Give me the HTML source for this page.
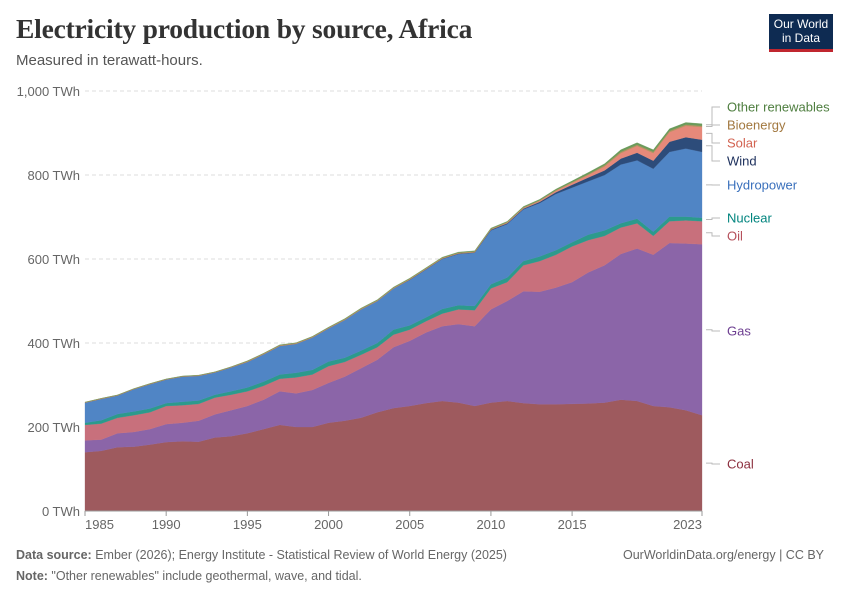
<!DOCTYPE html>
<html><head><meta charset="utf-8"><style>
body{margin:0;background:#fff;font-family:"Liberation Sans",sans-serif;}
#wrap{position:relative;width:850px;height:600px;overflow:hidden;}
h1{position:absolute;left:16px;top:13px;margin:0;font-family:"Liberation Serif",serif;font-size:27.5px;font-weight:bold;color:#333;letter-spacing:-0.2px}
.sub{position:absolute;left:16px;top:52px;font-size:15px;color:#555}
.logo{position:absolute;left:769px;top:14px;width:64px;height:38px;background:#0e2b52;color:#fff;font-size:12px;line-height:14px;text-align:center;padding-top:3px;box-sizing:border-box;border-bottom:3px solid #c0262f}
.foot{position:absolute;font-size:12.5px;color:#666}
</style></head><body><div id="wrap">
<h1>Electricity production by source, Africa</h1>
<div class="sub">Measured in terawatt-hours.</div>
<div class="logo">Our World<br>in Data</div>
<svg id="svg" width="850" height="600" style="position:absolute;left:0;top:0"></svg>
<div class="foot" style="left:16px;top:548px"><b>Data source:</b> Ember (2026); Energy Institute - Statistical Review of World Energy (2025)</div>
<div class="foot" style="left:623px;top:548px">OurWorldinData.org/energy | CC BY</div>
<div class="foot" style="left:16px;top:569px"><b>Note:</b> "Other renewables" include geothermal, wave, and tidal.</div>
</div>
<script>
const years=[];for(let y=1985;y<=2023;y++)years.push(y);
const coal=[140,143,152,153,158,164,166,165,175,178,185,195,205,200,200,210,215,222,235,245,250,257,262,258,250,258,262,257,254,254,255,256,258,265,262,250,247,240,228];
const gasTop=[168,170,185,188,195,207,210,215,230,240,250,265,285,280,288,305,320,340,360,390,405,425,440,445,440,480,500,523,522,532,545,568,585,612,625,610,638,637,635];
const oilTop=[205,208,222,228,235,250,252,255,270,277,285,298,315,318,325,345,355,372,390,420,432,452,470,480,478,530,545,585,595,610,630,645,655,675,685,655,690,692,690];
const nuclear=[5,8,9,9,9,7,8,8,7,8,9,10,10,11,11,11,10,10,10,12,10,9,11,10,10,10,11,10,11,11,10,13,13,10,11,10,11,9,8];
const hydroTop=[258,267,275,290,302,313,320,322,330,342,355,373,393,398,413,435,455,480,500,530,550,575,600,612,615,668,683,718,733,755,770,785,800,825,835,815,855,863,855];
const wind=[0,0,0,0,0,0,0,0,0,0,0,0,0,0,0,0,0,0,0,0,1,1,1,1,1,2,2,2,3,4,7,9,11,14,18,19,24,27,29];
const solar=[0,0,0,0,0,0,0,0,0,0,0,0,0,0,0,0,0,0,0,0,0,0,0,0,0,0,1,1,2,3,4,6,9,13,16,18,23,27,30];
const bio=[1,1,1,1,1,1,1,1,1,1,2,2,2,2,2,2,2,2,2,2,2,2,2,2,2,2,2,2,2,2,2,2,3,3,3,3,3,3,3];
const other=[0.3,0.4,0.5,0.5,0.5,0.5,0.5,0.5,0.5,0.5,0.6,0.6,0.7,0.7,0.7,0.8,1,1,1,1.2,1.2,1.3,1.4,1.4,1.5,1.5,1.6,2,2,2.5,3,4,4,5,5,5,5,5,5];
const gas=gasTop.map((v,i)=>v-coal[i]);
const oil=oilTop.map((v,i)=>v-gasTop[i]);
const hydro=hydroTop.map((v,i)=>v-oilTop[i]-nuclear[i]);
const yTicks=[0,200,400,600,800,1000];
const yTickLabels=["0 TWh","200 TWh","400 TWh","600 TWh","800 TWh","1,000 TWh"];
const xTicks=[1985,1990,1995,2000,2005,2010,2015,2023];
const series=[
 {n:"Coal",d:coal,c:"#9e5a5e",t:"#8c2f3e",ly:464},
 {n:"Gas",d:gas,c:"#8b65a8",t:"#6d3e91",ly:331},
 {n:"Oil",d:oil,c:"#c8707c",t:"#b5505b",ly:236},
 {n:"Nuclear",d:nuclear,c:"#2c9a8c",t:"#00847e",ly:218},
 {n:"Hydropower",d:hydro,c:"#5085c5",t:"#3a70bc",ly:185},
 {n:"Wind",d:wind,c:"#2d4c7a",t:"#1c2f5c",ly:161},
 {n:"Solar",d:solar,c:"#e6897a",t:"#d26250",ly:143},
 {n:"Bioenergy",d:bio,c:"#b8905f",t:"#a2783f",ly:125},
 {n:"Other renewables",d:other,c:"#6b9a5a",t:"#4e7e3f",ly:107}];
const X0=85,X1=702,Y0=511,Y1=91;
const xs=y=>X0+(y-1985)*(X1-X0)/(2023-1985);
const ys=v=>Y0-v*(Y0-Y1)/1000;
const svg=document.getElementById('svg');const NS="http://www.w3.org/2000/svg";
function mk(t,a){const e=document.createElementNS(NS,t);for(const k in a)e.setAttribute(k,a[k]);svg.appendChild(e);return e;}
yTicks.forEach((v,i)=>{
 if(v>0){const g=mk('line',{x1:X0,x2:X1,y1:ys(v),y2:ys(v),stroke:'#ddd','stroke-dasharray':'4,3'});
 
 }
 const t=mk('text',{x:80,y:ys(v)+5,'text-anchor':'end','font-size':13,fill:'#666','font-family':'Liberation Sans'});t.textContent=yTickLabels[i];
 
 
});
let base=years.map(()=>0);
series.forEach(s=>{
 const top=base.map((b,i)=>b+s.d[i]);
 let p=years.map((y,i)=>(i?'L':'M')+xs(y).toFixed(1)+','+ys(top[i]).toFixed(1)).join('');
 for(let i=years.length-1;i>=0;i--)p+='L'+xs(years[i]).toFixed(1)+','+ys(base[i]).toFixed(1);
 const a=mk('path',{d:p+'Z',fill:s.c,stroke:s.c,'stroke-width':0.3});
 
 
 const ey=ys((base[base.length-1]+top[top.length-1])/2);
 const l=mk('path',{d:`M706,${ey}L712,${ey}L712,${s.ly}L720,${s.ly}`,stroke:'#bbb',fill:'none'});
 
 
 const t=mk('text',{x:727,y:s.ly+4.5,'font-size':13,fill:s.t,'font-family':'Liberation Sans'});t.textContent=s.n;
 
 
 base=top;
});
const ax=mk('line',{x1:X0,x2:X1,y1:Y0,y2:Y0,stroke:'#999'});


xTicks.forEach(y=>{
 const tk=mk('line',{x1:xs(y),x2:xs(y),y1:Y0,y2:Y0+5,stroke:'#999'});
 
 
 const anchor=y===1985?'start':(y===2023?'end':'middle');
 const t=mk('text',{x:y===1985?X0:(y===2023?X1:xs(y)),y:529,'text-anchor':anchor,'font-size':13,fill:'#666','font-family':'Liberation Sans'});t.textContent=y;
 
 
});
</script></body></html>
